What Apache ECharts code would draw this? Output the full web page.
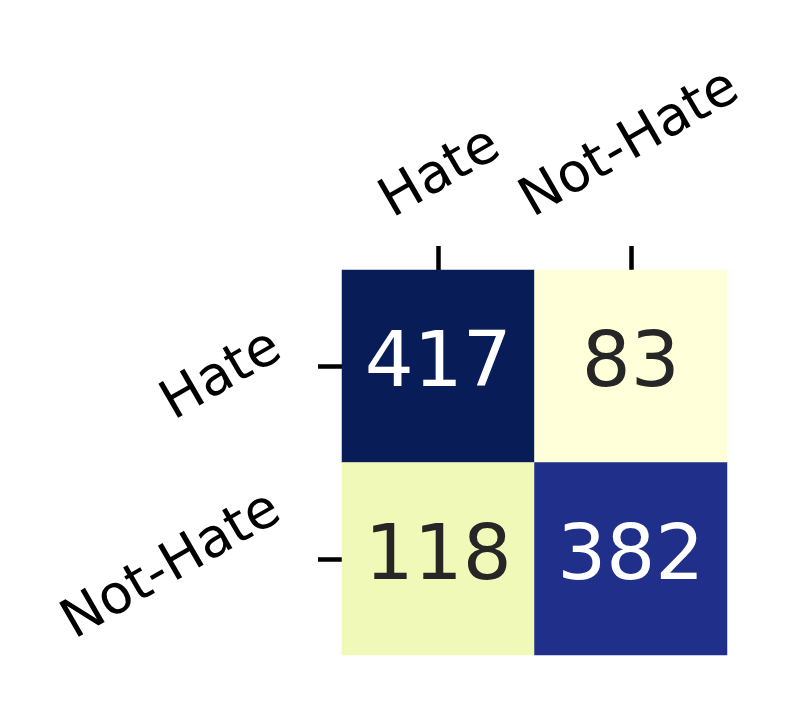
<!DOCTYPE html>
<html>
<head>
<meta charset="utf-8">
<script src="https://cdn.jsdelivr.net/npm/echarts@6/dist/echarts.min.js"></script>
<style>
    html, body { margin: 0; background: #fff; }
    #chart { width: 801px; height: 705px; }
</style>
</head>
<body>
<div id="chart"></div>
<script>
// confusion matrix: rows = actual, columns = predicted
const predictedLabels = ["Hate", "Not-Hate"];
const actualLabels = ["Hate", "Not-Hate"];
const hateRow = [417, 83];
const notHateRow = [118, 382];

const ylGnBu = ["#ffffd9", "#edf8b1", "#c7e9b4", "#7fcdbb", "#41b6c4", "#1d91c0", "#225ea8", "#253494", "#081d58"];

const rows = [hateRow, notHateRow];
const allValues = rows.flat();
const minValue = Math.min(...allValues);
const maxValue = Math.max(...allValues);
const midValue = (minValue + maxValue) / 2;

const cells = [];
rows.forEach((row, r) => {
    row.forEach((value, c) => {
        cells.push({
            value: [c, r, value],
            label: { color: value > midValue ? "#ffffff" : "#262626" }
        });
    });
});

const font = "DejaVu Sans, sans-serif";
const tickStyle = { show: true, alignWithLabel: true, length: 24, lineStyle: { color: "#000", width: 4.5 } };

const chart = echarts.init(document.getElementById("chart"), null, { renderer: "canvas" });

chart.setOption({
    animation: false,
    backgroundColor: "#ffffff",
    grid: { left: 342, top: 270, width: 385, height: 385, outerBoundsMode: "none" },
    xAxis: {
        type: "category",
        position: "top",
        data: predictedLabels,
        axisLine: { show: false },
        axisTick: tickStyle,
        axisLabel: { show: false },
        splitLine: { show: false }
    },
    yAxis: {
        type: "category",
        inverse: true,
        data: actualLabels,
        axisLine: { show: false },
        axisTick: tickStyle,
        axisLabel: { show: false },
        splitLine: { show: false }
    },
    visualMap: {
        show: false,
        min: minValue,
        max: maxValue,
        dimension: 2,
        inRange: { color: ylGnBu }
    },
    series: [{
        type: "heatmap",
        data: cells,
        itemStyle: { borderWidth: 0 },
        emphasis: { disabled: true },
        label: {
            show: true,
            fontSize: 77,
            fontFamily: font,
            formatter: (p) => String(p.value[2])
        }
    }]
});

// tick labels: matplotlib centres the box of each rotated label on its tick,
// echarts would rotate around the anchor, so place them as rotated texts
// at the tick positions the axes give
const xLabelOffset = [[2.5, 96], [-0.5, 125]];   // [along axis, away from grid]
const yLabelOffset = [[120, 10], [170, 8]];

const x0 = chart.convertToPixel({ xAxisIndex: 0 }, 0);
const x1 = chart.convertToPixel({ xAxisIndex: 0 }, 1);
const y0 = chart.convertToPixel({ yAxisIndex: 0 }, 0);
const y1 = chart.convertToPixel({ yAxisIndex: 0 }, 1);
const gridLeft = x0 - (x1 - x0) / 2;
const gridTop = y0 - (y1 - y0) / 2;

const labelText = (text, x, y) => ({
    type: "text",
    x,
    y,
    rotation: Math.PI / 6,
    silent: true,
    style: {
        text,
        fill: "#000",
        font: "54px " + font,
        align: "center",
        verticalAlign: "middle"
    }
});

chart.setOption({
    graphic: [
        ...predictedLabels.map((name, i) => labelText(
            name,
            chart.convertToPixel({ xAxisIndex: 0 }, i) + xLabelOffset[i][0],
            gridTop - xLabelOffset[i][1]
        )),
        ...actualLabels.map((name, i) => labelText(
            name,
            gridLeft - yLabelOffset[i][0],
            chart.convertToPixel({ yAxisIndex: 0 }, i) + yLabelOffset[i][1]
        ))
    ]
});
</script>
</body>
</html>
